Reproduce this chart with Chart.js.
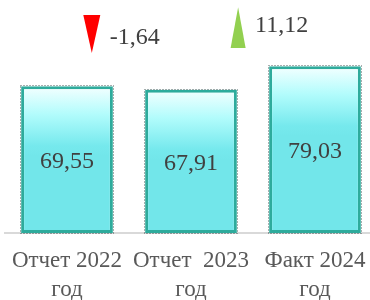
<!DOCTYPE html>
<html>
<head>
<meta charset="utf-8">
<script src="https://cdn.jsdelivr.net/npm/chart.js@4"></script>
<style>
    html, body { margin: 0; padding: 0; background: #fff; }
    #wrap { width: 370px; height: 300px; overflow: hidden; }
</style>
</head>
<body>
<div id="wrap"><canvas id="barChart" width="380" height="300"></canvas></div>
<script>
const categories = [['Отчет 2022', 'год'], ['Отчет  2023', 'год'], ['Факт 2024', 'год']];
const values = [69.55, 67.91, 79.03];
const deltaLabels = ['-1,64', '11,12'];
const deltaSigns = [-1, 1];

const serif = '"Liberation Serif", "Times New Roman", serif';

// gradient per bar, from its own top down
function barFill(context) {
    const chart = context.chart;
    if (!chart.chartArea) return '#72e6ea';
    const top = chart.scales.y.getPixelForValue(context.raw);
    const g = chart.ctx.createLinearGradient(0, top, 0, top + 70);
    g.addColorStop(0, '#f4ffff');
    g.addColorStop(0.4, '#b2fcfc');
    g.addColorStop(0.85, '#76e9ed');
    g.addColorStop(1, '#72e6ea');
    return g;
}

const barExtras = {
    id: 'barExtras',
    afterDatasetsDraw(chart) {
        const ctx = chart.ctx;
        const meta = chart.getDatasetMeta(0);
        ctx.save();
        meta.data.forEach((bar, i) => {
            const left = bar.x - bar.width / 2;
            // dotted outline
            ctx.setLineDash([1, 2]);
            ctx.strokeStyle = 'rgba(20,40,40,0.75)';
            ctx.lineWidth = 1;
            ctx.strokeRect(Math.round(left) - 0.5, Math.round(bar.y) - 0.5, Math.round(bar.width) + 1, Math.round(bar.base - bar.y) + 1);
            ctx.setLineDash([]);
            // value label
            ctx.fillStyle = '#404040';
            ctx.font = '24px ' + serif;
            ctx.textAlign = 'center';
            ctx.textBaseline = 'middle';
            ctx.fillText(values[i].toFixed(2).replace('.', ','), bar.x, (bar.y + bar.base) / 2 + 2);
        });
        ctx.restore();
    }
};

// change markers between bars
const deltaMarkers = {
    id: 'deltaMarkers',
    afterDraw(chart, args, opts) {
        const ctx = chart.ctx;
        const xs = chart.scales.x;
        const ys = chart.scales.y;
        ctx.save();
        opts.marks.forEach((m, i) => {
            const cx = xs.getPixelForValue(m.at);
            const yTop = ys.getPixelForValue(m.top);
            const yBot = ys.getPixelForValue(m.bottom);
            const hw = m.halfWidth;
            ctx.beginPath();
            if (deltaSigns[i] < 0) {
                ctx.fillStyle = '#ff0000';
                ctx.moveTo(cx - hw, yTop);
                ctx.lineTo(cx + hw, yTop);
                ctx.lineTo(cx, yBot);
            } else {
                ctx.fillStyle = '#92d050';
                ctx.moveTo(cx, yTop);
                ctx.lineTo(cx + hw, yBot);
                ctx.lineTo(cx - hw, yBot);
            }
            ctx.closePath();
            ctx.fill();
            ctx.fillStyle = '#404040';
            ctx.font = '24px ' + serif;
            ctx.textAlign = 'left';
            ctx.textBaseline = 'alphabetic';
            ctx.fillText(deltaLabels[i], cx + m.textGap, ys.getPixelForValue(m.textBase));
        });
        ctx.restore();
    }
};

new Chart(document.getElementById('barChart'), {
    type: 'bar',
    data: {
        labels: categories,
        datasets: [{
            data: values,
            backgroundColor: barFill,
            borderColor: '#2eab9c',
            borderWidth: 3,
            borderSkipped: false,
            categoryPercentage: 1,
            barPercentage: 0.74
        }]
    },
    plugins: [barExtras, deltaMarkers],
    options: {
        responsive: false,
        animation: false,
        layout: { padding: { left: 5, right: 3, top: 22, bottom: 0 } },
        plugins: {
            legend: { display: false },
            tooltip: { enabled: false },
            deltaMarkers: {
                marks: [
                    { at: 0.2, top: 103.3, bottom: 85.3, halfWidth: 8.5, textGap: 18, textBase: 89.8 },
                    { at: 1.38, top: 107, bottom: 87.7, halfWidth: 7.5, textGap: 17, textBase: 95.3 }
                ]
            }
        },
        scales: {
            x: {
                grid: { display: false, drawTicks: false },
                border: { display: true, color: '#d9d9d9', width: 2 },
                ticks: {
                    autoSkip: false,
                    maxRotation: 0,
                    padding: 14,
                    color: '#595959',
                    font: { family: serif, size: 23, lineHeight: 1.25 }
                },
                afterFit(scale) {
                    scale.height = 67;
                    scale.paddingLeft = 0;
                    scale.paddingRight = 0;
                }
            },
            y: {
                display: false,
                min: 0,
                max: 100
            }
        }
    }
});
</script>
</body>
</html>
